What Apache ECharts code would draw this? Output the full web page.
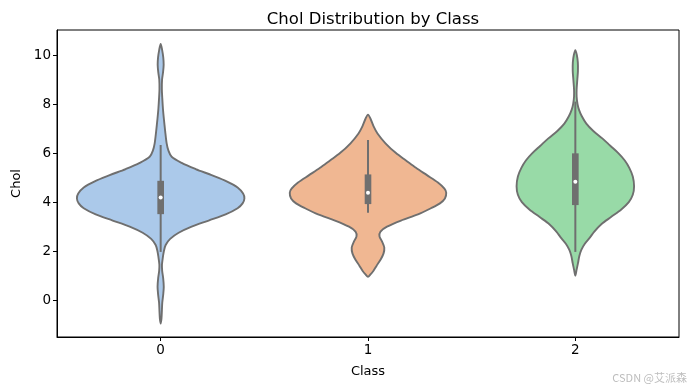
<!DOCTYPE html>
<html>
<head>
<meta charset="utf-8">
<script src="https://cdn.jsdelivr.net/npm/echarts@6/dist/echarts.min.js"></script>
<style>html,body{margin:0;padding:0;background:#fff}#c{width:690px;height:390px}</style>
</head>
<body>
<div id="c"></div>
<script>
// ---- data ----
var categories = ['0', '1', '2'];
var yTicks = [0, 2, 4, 6, 8, 10];
var colors = ['#abc9ea', '#f0b792', '#98daa7'];

// violin profiles: [value, relative half-width]
var violin0 = [
  [10.45,0],[10.2,1.5],[9.9,2.6],[9.6,3.0],[9.3,2.4],[9.0,1.4],[8.6,1.2],[8.25,1.6],[7.8,2.3],[7.4,3.2],
  [6.9,4.5],[6.4,6.0],[6.1,7.8],[5.85,11],[5.6,21],[5.35,35],[5.1,51],[4.85,66],[4.6,77],[4.35,82.5],
  [4.15,83.8],[3.95,82],[3.75,77],[3.5,65],[3.25,48],[3.0,31],[2.75,18],[2.5,9.5],[2.25,5],[2.0,3.2],
  [1.75,2.2],[1.45,1.3],[1.2,1.5],[0.9,2.5],[0.55,3.1],[0.25,2.6],[-0.1,1.6],[-0.45,1.2],[-0.75,0.8],[-0.95,0]
];
var violin1 = [
  [7.57,0],[7.4,2.5],[7.1,5.5],[6.8,9.5],[6.4,17.5],[6.0,28],[5.7,38],[5.4,48],[5.1,59],[4.8,70],
  [4.55,76.5],[4.38,78.3],[4.15,77],[3.95,72],[3.75,63],[3.5,50],[3.25,33],[3.0,19],[2.8,12.5],[2.6,11.5],
  [2.4,14],[2.15,16.3],[1.9,15.5],[1.65,12.5],[1.4,8.5],[1.2,5.5],[1.05,2.5],[0.95,0]
];
var violin2 = [
  [10.2,0],[10.0,1.5],[9.7,2.5],[9.35,2.6],[9.0,2.0],[8.6,1.3],[8.3,1.3],[8.0,2.2],[7.75,3.8],[7.5,6.5],
  [7.2,11],[6.9,18],[6.6,27],[6.3,35],[6.0,43],[5.7,49.5],[5.4,54],[5.05,57.5],[4.65,58.8],[4.3,57.5],
  [4.0,53.5],[3.7,46],[3.4,36],[3.1,26],[2.8,19],[2.55,14.5],[2.3,9.5],[2.05,6],[1.8,4],[1.5,2.6],[1.25,1.3],[1.0,0]
];
var violins = [violin0, violin1, violin2];

// inner box stats: [whiskerLow, q1, median, q3, whiskerHigh]
var boxStats = [
  [1.97, 3.51, 4.19, 4.87, 6.33],
  [3.57, 3.92, 4.38, 5.13, 6.53],
  [1.97, 3.88, 4.83, 5.99, 8.10]
];

var maxDensity = 83;   // half-width that equals 0.4 of a category band
var edge = '#6f6f6f';
var FONT = 'DejaVu Sans';

var chart = echarts.init(document.getElementById('c'), null, {renderer: 'canvas'});

function renderViolin(params, api) {
  var i = api.value(0);
  var prof = violins[i];
  var band = api.size([1, 0])[0];
  var scale = band * 0.4 / maxDensity;
  var right = [], left = [];
  for (var k = 0; k < prof.length; k++) {
    var p = api.coord([i, prof[k][0]]);
    var w = prof[k][1] * scale;
    right.push([p[0] + w, p[1]]);
    if (k > 0 && k < prof.length - 1) left.unshift([p[0] - w, p[1]]);
  }
  var pts = right.concat(left);
  var s = boxStats[i];
  var c = api.coord([i, s[2]]);
  var wl = api.coord([i, s[0]]), wh = api.coord([i, s[4]]);
  var q1 = api.coord([i, s[1]]), q3 = api.coord([i, s[3]]);
  var bw = band * 0.032;
  return {
    type: 'group',
    children: [
      {type: 'polygon', shape: {points: pts, smooth: 0.3},
       style: {fill: colors[i], stroke: edge, lineWidth: 1.9}},
      {type: 'line', shape: {x1: wl[0], y1: wl[1], x2: wh[0], y2: wh[1]},
       style: {stroke: edge, lineWidth: 2}},
      {type: 'rect', shape: {x: q3[0] - bw / 2, y: q3[1], width: bw, height: q1[1] - q3[1]},
       style: {fill: edge}},
      {type: 'circle', shape: {cx: c[0], cy: c[1], r: 2},
       style: {fill: '#ffffff'}}
    ]
  };
}

chart.setOption({
  animation: false,
  title: {
    text: 'Chol Distribution by Class',
    left: 368, top: 6, textAlign: 'center',
    textStyle: {fontFamily: FONT, fontSize: 16.5, fontWeight: 'normal', color: '#000'}
  },
  grid: {left: 57, right: 11, top: 30, bottom: 53, show: true, borderColor: '#000', borderWidth: 1},
  xAxis: {
    type: 'category', data: categories, boundaryGap: true,
    name: 'Class', nameLocation: 'middle', nameGap: 28,
    nameTextStyle: {fontFamily: FONT, fontSize: 13, color: '#000'},
    axisLine: {show: true, onZero: false, lineStyle: {color: '#000', width: 1}},
    axisTick: {show: true, alignWithLabel: true, length: 4, lineStyle: {color: '#000'}},
    axisLabel: {fontFamily: FONT, fontSize: 13.5, color: '#000', margin: 6},
    splitLine: {show: false}
  },
  yAxis: {
    type: 'value', min: -1.5, max: 11.02,
    name: 'Chol', nameLocation: 'middle', nameGap: 34,
    nameTextStyle: {fontFamily: FONT, fontSize: 13, color: '#000'},
    axisLine: {show: true, onZero: false, lineStyle: {color: '#000', width: 1}},
    axisTick: {show: true, length: 4, lineStyle: {color: '#000'}, customValues: yTicks},
    axisLabel: {fontFamily: FONT, fontSize: 13.5, color: '#000', margin: 6, customValues: yTicks},
    splitLine: {show: false}
  },
  graphic: [{
    type: 'text', right: 3, bottom: 7,
    style: {text: 'CSDN @艾派森', fill: '#bdbdbd', font: '11px "Noto Sans CJK SC", sans-serif'}
  }],
  series: [{
    type: 'custom',
    renderItem: renderViolin,
    encode: {x: 0},
    data: categories.map(function (c, i) { return [i]; }),
    clip: false
  }]
});
</script>
</body>
</html>
